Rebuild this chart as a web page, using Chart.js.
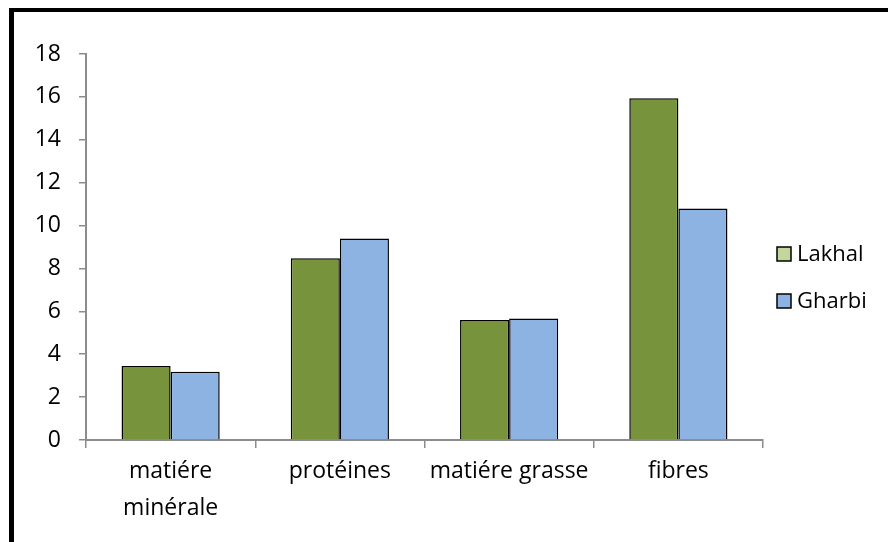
<!DOCTYPE html>
<html>
<head>
<meta charset="utf-8">
<script src="https://cdn.jsdelivr.net/npm/chart.js@4/dist/chart.umd.min.js"></script>
<style>
  html, body { margin: 0; padding: 0; background: #fff; }
  #wrap { position: relative; width: 888px; height: 542px; }
</style>
</head>
<body>
<div id="wrap"><canvas id="chart" width="888" height="542"></canvas></div>
<script>
// categories and series
const categories = [["matiére", "minérale"], "protéines", "matiére grasse", "fibres"];
const lakhal = [3.45, 8.47, 5.6, 15.94];
const gharbi = [3.18, 9.4, 5.67, 10.8];
const seriesNames = ["Lakhal", "Gharbi"];
const barColors = ["#77933c", "#8db3e2"];
const legendColors = ["#c3d69b", "#8db3e2"];
const yTicks = [0, 2, 4, 6, 8, 10, 12, 14, 16, 18];

const FONT = "Open Sans";
const axisGray = "#8c8c8c";

// black frame (left + top) and custom legend at the right
const framePlugin = {
    id: 'frame',
    afterDraw(chart) {
        const ctx = chart.ctx;
        ctx.save();
        ctx.fillStyle = '#000';
        ctx.fillRect(9, 8, 879, 4);
        ctx.fillRect(9, 8, 5, 534);

        // legend
        ctx.font = '22px "' + FONT + '"';
        ctx.textBaseline = 'middle';
        ctx.textAlign = 'left';
        const rows = [254, 301];
        chart.data.datasets.forEach((ds, i) => {
            const y = rows[i];
            ctx.fillStyle = legendColors[i];
            ctx.fillRect(777, y - 7, 14, 14);
            ctx.strokeStyle = '#000';
            ctx.lineWidth = 1.5;
            ctx.strokeRect(777, y - 7, 14, 14);
            ctx.fillStyle = '#000';
            ctx.fillText(ds.label, 797, y + 1);
        });
        ctx.restore();
    }
};

new Chart(document.getElementById('chart'), {
    type: 'bar',
    data: {
        labels: categories,
        datasets: [
            { label: seriesNames[0], data: lakhal, backgroundColor: barColors[0], borderColor: '#000', borderWidth: 1.5 },
            { label: seriesNames[1], data: gharbi, backgroundColor: barColors[1], borderColor: '#000', borderWidth: 1.5 }
        ]
    },
    options: {
        responsive: false,
        animation: false,
        layout: { padding: { left: 0, right: 125, top: 54, bottom: 0 } },
        datasets: { bar: { categoryPercentage: 0.58, barPercentage: 1.0 } },
        plugins: {
            legend: { display: false },
            tooltip: { enabled: false }
        },
        scales: {
            x: {
                afterFit(s) { s.height = 102; },
                grid: {
                    display: true,
                    drawOnChartArea: false,
                    offset: true,
                    color: axisGray,
                    lineWidth: 1.5,
                    tickLength: 8
                },
                border: { color: axisGray, width: 2 },
                ticks: {
                    color: '#000',
                    padding: 4,
                    maxRotation: 0,
                    font: { family: FONT, size: 23, lineHeight: 1.65 }
                }
            },
            y: {
                min: 0,
                max: 18,
                afterFit(s) { s.width = 86; },
                afterBuildTicks(s) { s.ticks = yTicks.map(v => ({ value: v })); },
                grid: {
                    display: true,
                    drawOnChartArea: false,
                    color: axisGray,
                    lineWidth: 1.5,
                    tickLength: 7
                },
                border: { color: axisGray, width: 2 },
                ticks: {
                    color: '#000',
                    padding: 18,
                    font: { family: FONT, size: 23 }
                }
            }
        }
    },
    plugins: [framePlugin]
});
</script>
</body>
</html>
